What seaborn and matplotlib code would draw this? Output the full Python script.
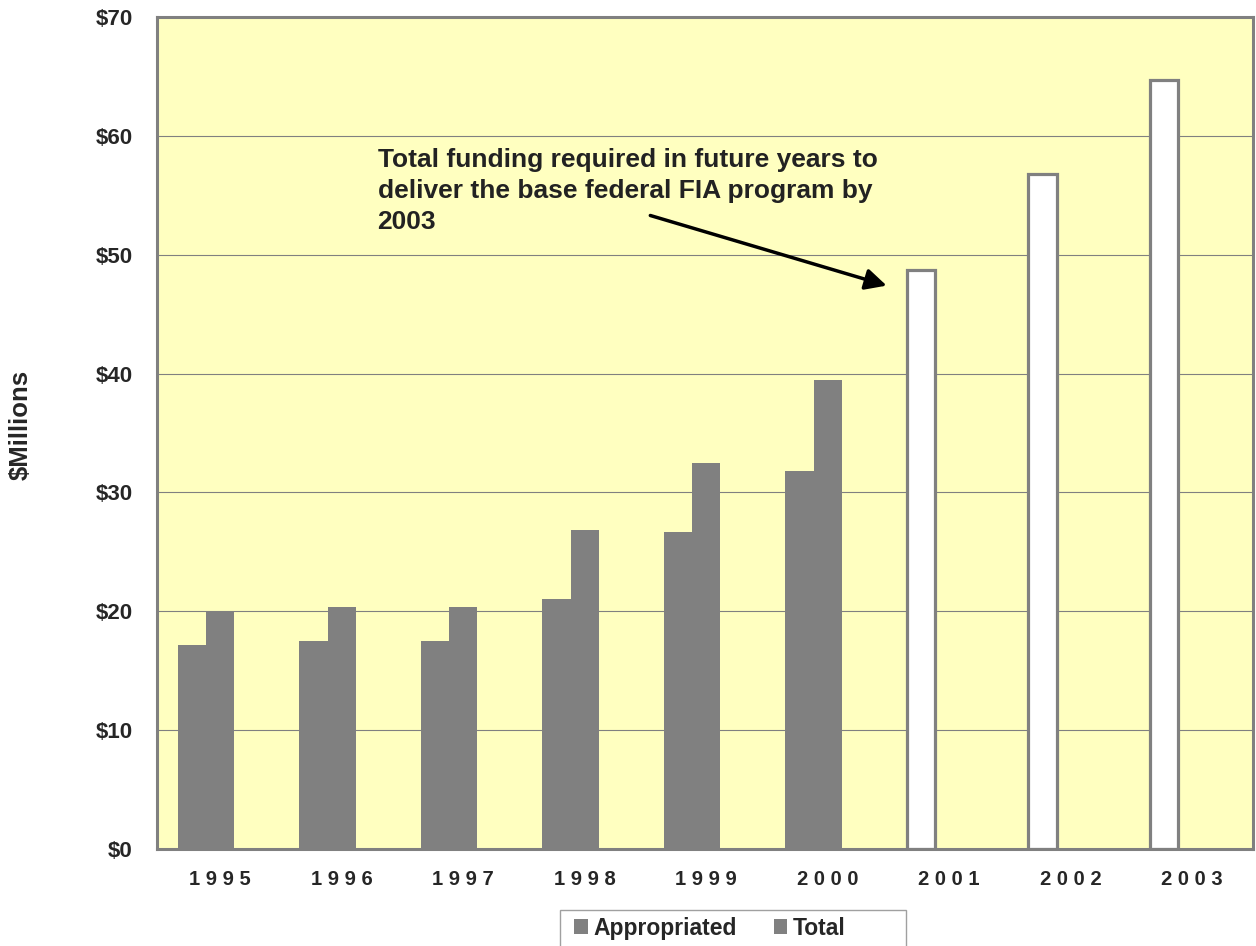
import matplotlib
matplotlib.use("Agg")
import numpy as np
import pandas as pd
import seaborn as sns
import matplotlib.pyplot as plt
from matplotlib.patches import Patch, Rectangle

# values ($ millions)
years = ["1995", "1996", "1997", "1998", "1999", "2000", "2001", "2002", "2003"]
appropriated = [17.2, 17.5, 17.5, 21.0, 26.7, 31.8]
total = [20.0, 20.4, 20.4, 26.8, 32.5, 39.5]
required = [48.7, 56.8, 64.7]  # future years, white bars
y_ticks = [0, 10, 20, 30, 40, 50, 60, 70]

GRAY = "#808080"
BG = "#FFFFC0"

# first slot holds appropriated (past) and required (future); third slot is empty spacing
n_past = len(appropriated)
slot1 = appropriated + required
slot2 = total + [np.nan] * len(required)
rows = []
for i, yr in enumerate(years):
    rows.append((yr, "Appropriated", slot1[i]))
    rows.append((yr, "Total", slot2[i]))
    rows.append((yr, "_gap", 0.0))
df = pd.DataFrame(rows, columns=["year", "series", "value"])

sns.set_style("white")
plt.rcParams["font.family"] = ["Liberation Sans", "DejaVu Sans"]
plt.rcParams["font.weight"] = "bold"

fig = plt.figure(figsize=(12.56, 9.46), dpi=100)
ax = fig.add_axes([157 / 1256, 1 - 849 / 946, 1096 / 1256, 832 / 946])
ax.set_facecolor(BG)

sns.barplot(data=df, x="year", y="value", hue="series",
            order=years, hue_order=["Appropriated", "Total", "_gap"],
            palette={"Appropriated": GRAY, "Total": GRAY, "_gap": BG},
            width=0.7, dodge=True, saturation=1, linewidth=0,
            legend=False, ax=ax)

# future years: white bars with gray outline
for bar in ax.containers[0][n_past:]:
    bar.set_facecolor("white")
    bar.set_edgecolor(GRAY)
    bar.set_linewidth(2.3)

ax.set_xlim(-0.52, len(years) - 0.52)
ax.set_ylim(0, 70)
ax.set_yticks(y_ticks)
ax.set_yticklabels([f"${v}" for v in y_ticks], fontsize=16, fontweight="bold")
ax.set_xticks(range(len(years)))
ax.set_xticklabels([" ".join(y) for y in years], fontsize=14.5, fontweight="bold")
ax.set_xticks(np.arange(-0.5, len(years), 1), minor=True)
ax.tick_params(axis="x", which="major", length=0, pad=15)
ax.tick_params(axis="x", which="minor", direction="inout", length=8.5, width=1, color=GRAY)
ax.tick_params(axis="y", direction="out", length=3.6, width=1, color=GRAY, pad=14)

ax.grid(axis="y", color=GRAY, linewidth=0.8)
ax.set_axisbelow(True)
for s in ax.spines.values():
    s.set_visible(True)
    s.set_color(GRAY)
    s.set_linewidth(2.2)

ax.set_xlabel("")
ax.set_ylabel("$Millions", fontsize=18.5, fontweight="bold")
ax.yaxis.set_label_coords(-0.113, 0.51)

ax.text(1.295, 59.0,
        "Total funding required in future years to\ndeliver the base federal FIA program by\n2003",
        fontsize=19, fontweight="bold", color="#222222", va="top", ha="left",
        linespacing=1.38)
ax.annotate("", xy=(5.485, 47.4), xytext=(3.54, 53.3),
            arrowprops=dict(arrowstyle="-|>", color="black", lw=2.5,
                            mutation_scale=32, shrinkA=0, shrinkB=0))

# legend box running off the bottom edge
fig.add_artist(Rectangle((560 / 1256, -0.01), 346 / 1256, (946 - 910) / 946 + 0.01,
                         transform=fig.transFigure, facecolor="white",
                         edgecolor="#A0A0A0", linewidth=1))
handles = [Patch(facecolor=GRAY, edgecolor="none"), Patch(facecolor=GRAY, edgecolor="none")]
fig.legend(handles, ["Appropriated", "Total"], loc="center left",
           bbox_to_anchor=(574 / 1256, 1 - 928 / 946), ncol=2, frameon=False,
           handlelength=0.6, handleheight=0.6, handletextpad=0.25,
           columnspacing=1.6, borderpad=0, borderaxespad=0,
           prop={"weight": "bold", "size": 16.5})

fig.savefig("out.png", dpi=100)
